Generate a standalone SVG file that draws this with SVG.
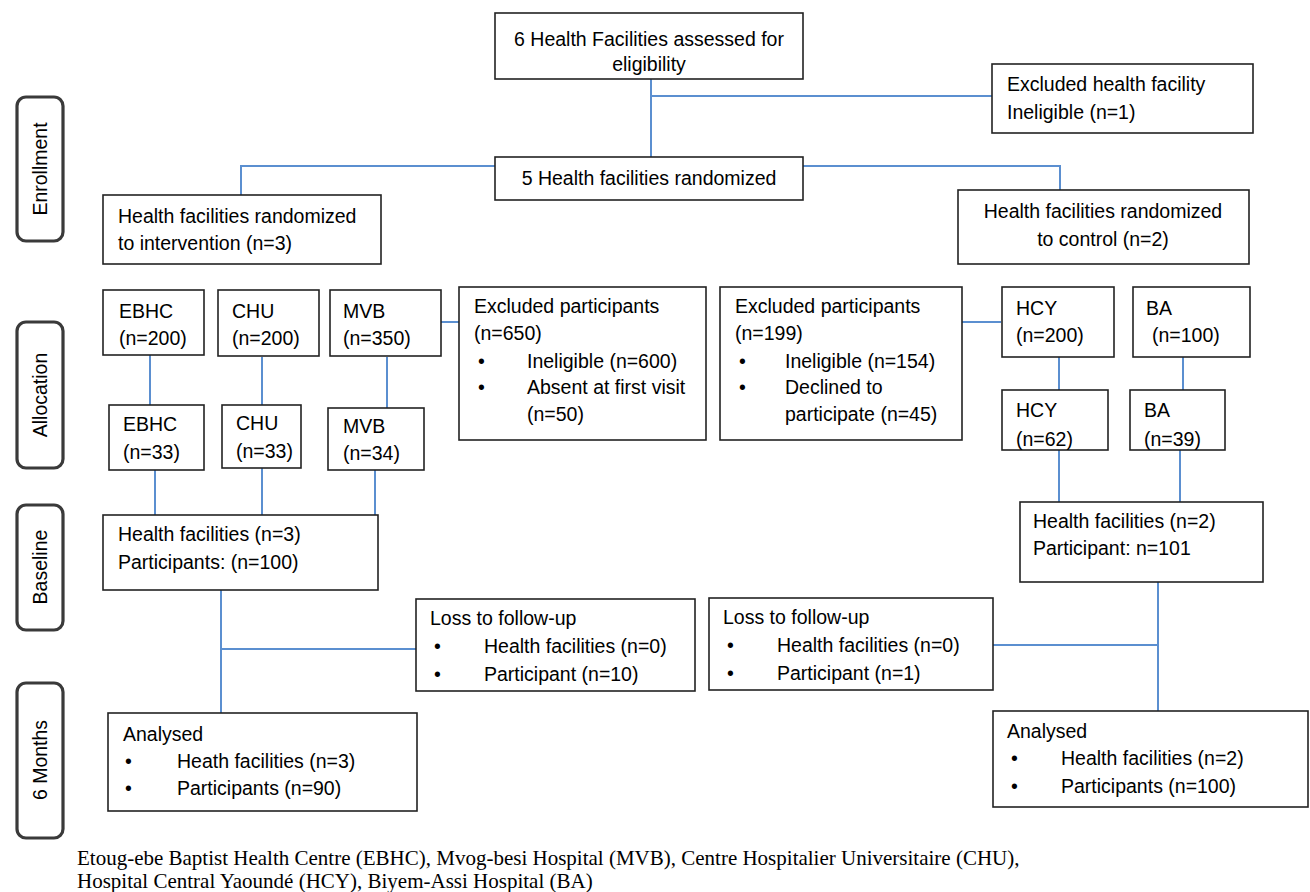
<svg xmlns="http://www.w3.org/2000/svg" width="1310" height="892" viewBox="0 0 1310 892">
<style>
.box{fill:#fff;stroke:#222;stroke-width:1.6}
.side{fill:#fff;stroke:#3a3a3a;stroke-width:3.2}
.t{font-family:"Liberation Sans",Arial,sans-serif;font-size:19.5px;fill:#000}
.c{text-anchor:middle}
.cap{font-family:"Liberation Serif","Times New Roman",serif;font-size:21px;fill:#000}
.ln{stroke:#5b8fd0;stroke-width:2;fill:none}
</style>
<rect width="1310" height="892" fill="#fff"/>
<g id="connectors">
<path class="ln" d="M651 79V157 M651 96H992"/>
<path class="ln" d="M241 195V166H495 M803 166H1060V190"/>
<path class="ln" d="M441 322H459 M962 322H1001"/>
<path class="ln" d="M150 355V405 M262 357V405 M387 357V408"/>
<path class="ln" d="M1059 357V390 M1183 357V390"/>
<path class="ln" d="M155 470V515 M262 468V515 M375 470V515"/>
<path class="ln" d="M1059 450V502 M1180 450V502"/>
<path class="ln" d="M221 590V713 M221 649H416"/>
<path class="ln" d="M1158 582V711 M993 645H1158"/>
</g>
<g id="side-enrollment"><rect class="side" x="17" y="97" width="46" height="144" rx="9"/><text class="t" transform="translate(47 169) rotate(-90)" text-anchor="middle">Enrollment</text></g>
<g id="side-allocation"><rect class="side" x="17" y="322" width="46" height="146" rx="9"/><text class="t" transform="translate(47 395) rotate(-90)" text-anchor="middle">Allocation</text></g>
<g id="side-baseline"><rect class="side" x="17" y="505" width="46" height="125" rx="9"/><text class="t" transform="translate(47 567) rotate(-90)" text-anchor="middle">Baseline</text></g>
<g id="side-6months"><rect class="side" x="17" y="683" width="46" height="155" rx="9"/><text class="t" transform="translate(47 760) rotate(-90)" text-anchor="middle">6 Months</text></g>

<g id="assessed"><rect class="box" x="495" y="13" width="308" height="66"/><text class="t c" x="649" y="46">6 Health Facilities assessed for</text><text class="t c" x="649" y="71">eligibility</text></g>
<g id="excluded-facility"><rect class="box" x="992" y="64" width="261" height="69"/><text class="t" x="1007" y="91">Excluded health facility</text><text class="t" x="1007" y="119">Ineligible  (n=1)</text></g>
<g id="randomized"><rect class="box" x="495" y="157" width="308" height="43"/><text class="t c" x="649" y="185">5 Health facilities randomized</text></g>
<g id="intervention"><rect class="box" x="103" y="195" width="278" height="69"/><text class="t" x="118" y="223">Health facilities randomized</text><text class="t" x="118" y="250">to intervention  (n=3)</text></g>
<g id="control"><rect class="box" x="958" y="190" width="291" height="74"/><text class="t c" x="1103" y="218">Health facilities randomized</text><text class="t c" x="1103" y="246">to control (n=2)</text></g>

<g id="ebhc200"><rect class="box" x="103" y="290" width="101" height="65"/><text class="t" x="119" y="318">EBHC</text><text class="t" x="119" y="345">(n=200)</text></g>
<g id="chu200"><rect class="box" x="218" y="290" width="101" height="66"/><text class="t" x="232" y="318">CHU</text><text class="t" x="232" y="345">(n=200)</text></g>
<g id="mvb350"><rect class="box" x="330" y="290" width="111" height="66"/><text class="t" x="343" y="318">MVB</text><text class="t" x="343" y="345">(n=350)</text></g>
<g id="excluded650"><rect class="box" x="459" y="287" width="247" height="153"/><text class="t" x="474" y="313">Excluded participants</text><text class="t" x="474" y="340">(n=650)</text><text class="t" x="478" y="368">•</text><text class="t" x="527" y="368">Ineligible  (n=600)</text><text class="t" x="478" y="394">•</text><text class="t" x="527" y="394">Absent at first visit</text><text class="t" x="527" y="421">(n=50)</text></g>
<g id="excluded199"><rect class="box" x="720" y="287" width="242" height="153"/><text class="t" x="735" y="313">Excluded participants</text><text class="t" x="735" y="340">(n=199)</text><text class="t" x="739" y="368">•</text><text class="t" x="785" y="368">Ineligible  (n=154)</text><text class="t" x="739" y="394">•</text><text class="t" x="785" y="394">Declined to</text><text class="t" x="785" y="421">participate  (n=45)</text></g>
<g id="hcy200"><rect class="box" x="1002" y="287" width="112" height="70"/><text class="t" x="1016" y="315">HCY</text><text class="t" x="1016" y="342">(n=200)</text></g>
<g id="ba100"><rect class="box" x="1133" y="287" width="117" height="70"/><text class="t" x="1146" y="315">BA</text><text class="t" x="1152" y="342">(n=100)</text></g>

<g id="ebhc33"><rect class="box" x="109" y="405" width="95" height="65"/><text class="t" x="123" y="431">EBHC</text><text class="t" x="123" y="459">(n=33)</text></g>
<g id="chu33"><rect class="box" x="222" y="405" width="79" height="63"/><text class="t" x="236" y="430">CHU</text><text class="t" x="236" y="458">(n=33)</text></g>
<g id="mvb34"><rect class="box" x="328" y="408" width="96" height="62"/><text class="t" x="343" y="433">MVB</text><text class="t" x="343" y="460">(n=34)</text></g>
<g id="hcy62"><rect class="box" x="1002" y="390" width="106" height="60"/><text class="t" x="1016" y="417">HCY</text><text class="t" x="1016" y="446">(n=62)</text></g>
<g id="ba39"><rect class="box" x="1130" y="390" width="95" height="60"/><text class="t" x="1144" y="417">BA</text><text class="t" x="1144" y="446">(n=39)</text></g>

<g id="baseline-left"><rect class="box" x="103" y="515" width="275" height="75"/><text class="t" x="118" y="541">Health facilities (n=3)</text><text class="t" x="118" y="569">Participants: (n=100)</text></g>
<g id="baseline-right"><rect class="box" x="1020" y="502" width="243" height="80"/><text class="t" x="1033" y="528">Health facilities (n=2)</text><text class="t" x="1033" y="555">Participant: n=101</text></g>

<g id="loss-left"><rect class="box" x="416" y="599" width="279" height="92"/><text class="t" x="430" y="625">Loss to follow-up</text><text class="t" x="434" y="653">•</text><text class="t" x="484" y="653">Health facilities (n=0)</text><text class="t" x="434" y="681">•</text><text class="t" x="484" y="681">Participant (n=10)</text></g>
<g id="loss-right"><rect class="box" x="709" y="598" width="284" height="92"/><text class="t" x="723" y="624">Loss to follow-up</text><text class="t" x="727" y="652">•</text><text class="t" x="777" y="652">Health facilities (n=0)</text><text class="t" x="727" y="680">•</text><text class="t" x="777" y="680">Participant (n=1)</text></g>

<g id="analysed-left"><rect class="box" x="108" y="713" width="309" height="98"/><text class="t" x="123" y="741">Analysed</text><text class="t" x="125" y="768">•</text><text class="t" x="177" y="768">Heath facilities (n=3)</text><text class="t" x="125" y="795">•</text><text class="t" x="177" y="795">Participants  (n=90)</text></g>
<g id="analysed-right"><rect class="box" x="993" y="711" width="315" height="96"/><text class="t" x="1007" y="738">Analysed</text><text class="t" x="1011" y="765">•</text><text class="t" x="1061" y="765">Health facilities (n=2)</text><text class="t" x="1011" y="793">•</text><text class="t" x="1061" y="793">Participants (n=100)</text></g>

<g id="caption"><text class="cap" x="77" y="865">Etoug-ebe Baptist Health Centre (EBHC),  Mvog-besi Hospital (MVB),  Centre Hospitalier Universitaire (CHU),</text><text class="cap" x="77" y="888">Hospital Central  Yaoundé (HCY),  Biyem-Assi Hospital (BA)</text></g>
</svg>
